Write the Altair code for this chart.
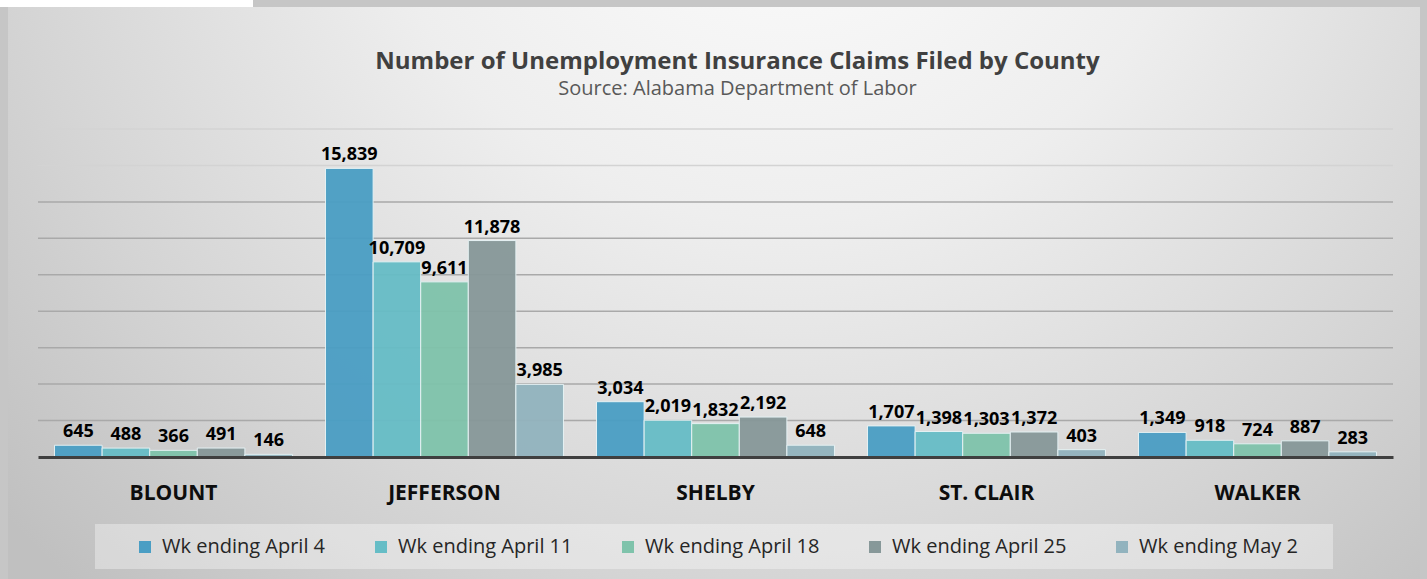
import altair as alt
import pandas as pd

counties = ["BLOUNT", "JEFFERSON", "SHELBY", "ST. CLAIR", "WALKER"]
weeks = ["Wk ending April 4", "Wk ending April 11", "Wk ending April 18",
         "Wk ending April 25", "Wk ending May 2"]
apr4 = [645, 15839, 3034, 1707, 1349]
apr11 = [488, 10709, 2019, 1398, 918]
apr18 = [366, 9611, 1832, 1303, 724]
apr25 = [491, 11878, 2192, 1372, 887]
may2 = [146, 3985, 648, 403, 283]
grid_values = [2000, 4000, 6000, 8000, 10000, 12000, 14000, 16000, 18000]
colors = ["#4a9ec4", "#66bdc6", "#7fc3ab", "#879899", "#92b3be"]

rows = []
for w, vals in zip(weeks, [apr4, apr11, apr18, apr25, may2]):
    for c, v in zip(counties, vals):
        rows.append({"county": c, "week": w, "claims": v})
df = pd.DataFrame(rows)

FONT = "Open Sans"
W, H = 1355, 328
one = pd.DataFrame({"k": [0]})

bg = alt.Chart(one).mark_rect(
    fill={"gradient": "radial", "x1": 0.55, "y1": 0.15, "r1": 0,
          "x2": 0.55, "y2": 0.15, "r2": 0.75,
          "stops": [{"offset": 0, "color": "#ffffff"},
                    {"offset": 0.4, "color": "#eeeeee"},
                    {"offset": 0.75, "color": "#d4d4d4"},
                    {"offset": 1, "color": "#c0c0c0"}]}
).encode(x=alt.value(-30), x2=alt.value(1382), y=alt.value(-122), y2=alt.value(450))

topwhite = alt.Chart(one).mark_rect(fill="#ffffff").encode(
    x=alt.value(-38), x2=alt.value(215), y=alt.value(-129), y2=alt.value(-122))

legbox = alt.Chart(one).mark_rect(fill="#ffffff", opacity=0.35).encode(
    x=alt.value(57), x2=alt.value(1295), y=alt.value(395), y2=alt.value(440))

ydef = alt.Y("claims:Q", scale=alt.Scale(domain=[0, 18000], nice=False),
             axis=alt.Axis(title=None, labels=False, ticks=False, domain=False, grid=False))

grid = alt.Chart(pd.DataFrame({"claims": grid_values})).mark_rule(strokeWidth=1.5).encode(
    y=ydef,
    color=alt.condition("datum.claims >= 16000", alt.value("#d3d3d3"), alt.value("#a9a9a9")),
)

xdef = alt.X("county:N", sort=counties,
             scale=alt.Scale(paddingInner=0.122, paddingOuter=0.061),
             axis=alt.Axis(title=None, labelAngle=0, labelFont=FONT, labelFontWeight="bold",
                           labelFontSize=21, labelColor="#0d0d0d", labelPadding=25,
                           ticks=False, domainColor="#3f3f3f", domainWidth=3, zindex=1))
xoff = alt.XOffset("week:N", sort=weeks, scale=alt.Scale(paddingInner=0, paddingOuter=0))

bars = alt.Chart(df).mark_bar(stroke="#e6f3f5", strokeWidth=1, opacity=0.95).encode(
    x=xdef, xOffset=xoff, y=ydef,
    color=alt.Color("week:N", sort=weeks, scale=alt.Scale(domain=weeks, range=colors),
                    legend=alt.Legend(title=None, orient="none", legendX=97, legendY=408,
                                      direction="horizontal", symbolType="square",
                                      symbolSize=144, symbolStrokeWidth=0, symbolOpacity=1,
                                      labelFont=FONT, labelFontSize=20, labelColor="#262626",
                                      labelOffset=7, columnPadding=45, padding=0,
                                      labelLimit=300)),
)

labels = alt.Chart(df).mark_text(dy=-13, font=FONT, fontWeight="bold", fontSize=18,
                                 color="#000000", baseline="middle").encode(
    x=xdef, xOffset=xoff, y=ydef, text=alt.Text("claims:Q", format=","))

chart = alt.layer(bg, topwhite, legbox, grid, bars, labels).properties(
    width=W, height=H,
    title=alt.TitleParams(
        text="Number of Unemployment Insurance Claims Filed by County",
        subtitle="Source: Alabama Department of Labor",
        font=FONT, fontSize=24, fontWeight="bold", color="#404040",
        subtitleFont=FONT, subtitleFontSize=20, subtitleColor="#595959",
        subtitlePadding=5, anchor="middle", dx=22, offset=-99),
    autosize=alt.AutoSizeParams(type="none"),
    padding={"left": 38, "top": 129, "right": 34, "bottom": 122},
    background="#c6c6c6",
).configure_view(stroke=None)

chart.save("out.html", embed_options={"renderer": "svg", "actions": False})
